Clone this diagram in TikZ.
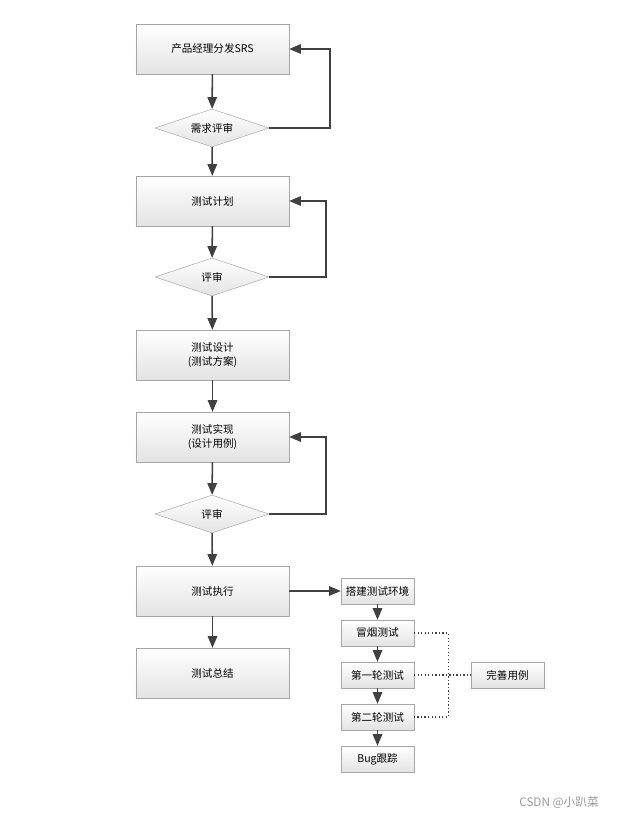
\documentclass[tikz,border=0pt]{standalone}
\usepackage{fontspec}
\setmainfont{Noto Sans CJK SC}
\usepackage{xcolor}
\usetikzlibrary{shapes,arrows,positioning,calc}

\tikzset{
  bigbox/.style={draw=gray!70, rectangle, top color=white, bottom color=gray!22, font=\fontsize{9}{12}\selectfont, minimum width=4.59cm, minimum height=1.5cm, align=center, inner sep=1pt},
  smallbox/.style={draw=gray!70, rectangle, top color=white, bottom color=gray!22, font=\fontsize{9}{11}\selectfont, minimum width=2.19cm, minimum height=0.78cm, align=center, inner sep=1pt},
  review/.style={draw=gray!70, diamond, aspect=3, top color=white, bottom color=gray!22, font=\fontsize{9}{11}\selectfont, minimum width=3.42cm, minimum height=1.14cm, inner sep=0pt},
  flow/.style={-triangle 45, line width=1.3pt, draw=black!75},
}

\begin{document}
\begin{tikzpicture}[x=0.03cm, y=-0.03cm]
    \useasboundingbox (0,0) rectangle (620,822);
    % main column
    \node[bigbox] (srs) at (212.5,49) {产品经理分发SRS};
    \node[review] (rev1) at (212,128) {需求评审};
    \node[bigbox] (plan) at (212.5,201) {测试计划};
    \node[review] (rev2) at (212,277) {评审};
    \node[bigbox] (design) at (212.5,355) {测试设计\\(测试方案)};
    \node[bigbox] (impl) at (212.5,437) {测试实现\\(设计用例)};
    \node[review] (rev3) at (212,514) {评审};
    \node[bigbox] (exec) at (212.5,591) {测试执行};
    \node[bigbox] (sum) at (212.5,673) {测试总结};
    % side column
    \node[smallbox] (env) at (377.5,591) {搭建测试环境};
    \node[smallbox] (smoke) at (377.5,633) {冒烟测试};
    \node[smallbox] (round1) at (377.5,675) {第一轮测试};
    \node[smallbox] (round2) at (377.5,717) {第二轮测试};
    \node[smallbox] (bug) at (377.5,759) {Bug跟踪};
    \node[smallbox] (fix) at (507.5,675) {完善用例};
    \node[text=gray!80, font=\fontsize{10}{12}\selectfont, anchor=east] (mark) at (603,803) {CSDN @小趴菜};

    \draw[flow] (srs) -- (rev1);
    \draw[flow] (rev1) -- (plan);
    \draw[flow] (plan) -- (rev2);
    \draw[flow] (rev2) -- (design);
    \draw[flow] (design) -- (impl);
    \draw[flow] (impl) -- (rev3);
    \draw[flow] (rev3) -- (exec);
    \draw[flow] (exec) -- (sum);
    % feedback loops
    \draw[flow] (rev1.east) -- ++(61,0) |- (srs.east);
    \draw[flow] (rev2.east) -- ++(57,0) |- (plan.east);
    \draw[flow] (rev3.east) -- ++(57,0) |- (impl.east);
    % execution steps
    \draw[flow] (exec) -- (env);
    \draw[flow] (env) -- (smoke);
    \draw[flow] (smoke) -- (round1);
    \draw[flow] (round1) -- (round2);
    \draw[flow] (round2) -- (bug);
    \draw[dotted, line width=1pt, black!75] (smoke.east) -- ++(34,0) |- (round2.east);
    \draw[dotted, line width=1pt, black!75] (round1.east) -- (fix.west);
\end{tikzpicture}
\end{document}
